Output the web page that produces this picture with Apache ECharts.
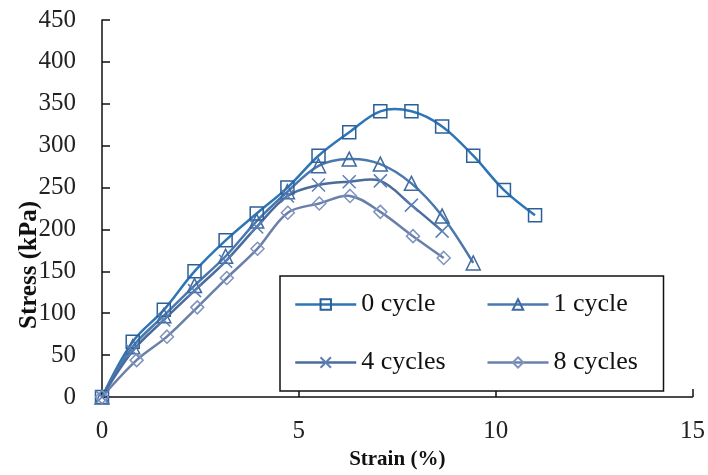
<!DOCTYPE html>
<html>
<head>
<meta charset="utf-8">
<script src="https://cdn.jsdelivr.net/npm/echarts@6/dist/echarts.min.js"></script>
<style>
  html, body { margin: 0; padding: 0; background: #fff; }
  #main { width: 708px; height: 475px; }
</style>
</head>
<body>
<div id="main"></div>
<script>
// strain (%) and stress (kPa)
var strain0 = [0, 0.78, 1.57, 2.35, 3.14, 3.93, 4.71, 5.5, 6.28, 7.07, 7.86, 8.64, 9.43, 10.21, 11.0];
var stress0 = [0, 66, 104, 150, 187, 219, 250, 288, 316, 341, 341, 323, 288, 247, 217];

var strain1 = [0, 0.78, 1.57, 2.35, 3.14, 3.93, 4.71, 5.5, 6.28, 7.07, 7.86, 8.64, 9.43];
var stress1 = [0, 60, 97, 133, 168, 210, 245, 276, 284, 278, 255, 216, 160];

var strain4 = [0, 0.78, 1.57, 2.35, 3.14, 3.93, 4.71, 5.5, 6.28, 7.07, 7.86, 8.64];
var stress4 = [0, 55, 92, 127, 162, 203, 240, 253, 257, 258, 229, 198];

var strain8 = [0, 0.88, 1.65, 2.42, 3.17, 3.95, 4.72, 5.52, 6.3, 7.07, 7.9, 8.68];
var stress8 = [0, 44, 72, 107, 142, 177, 220, 231, 240, 221, 192, 166];

var names = ["0 cycle", "1 cycle", "4 cycles", "8 cycles"];
var xTicks = [0, 5, 10, 15];
var yTicks = [0, 450, 50]; // min, max, step

function pairs(xs, ys) {
  var out = [];
  for (var i = 0; i < xs.length; i++) out.push([xs[i], ys[i]]);
  return out;
}

var font = "Liberation Serif";
var crossPath = "path://M0,0L10,10M10,0L0,10";

// smooth curve (excel style, no clamping at peaks) drawn with the axis scales
function curveSeries(name, xs, ys, color) {
  return {
    name: name + " curve",
    type: "custom",
    data: pairs(xs, ys),
    encode: { x: 0, y: 1 },
    silent: true,
    z: 1,
    renderItem: function (params, api) {
      if (params.dataIndex !== 0) return null;
      var pts = [];
      for (var i = 0; i < xs.length; i++) pts.push(api.coord([xs[i], ys[i]]));
      return {
        type: "polyline",
        shape: { points: pts, smooth: 0.35 },
        style: { stroke: color, lineWidth: 2.5, fill: null }
      };
    }
  };
}

// markers only, the line itself comes from curveSeries
function markSeries(name, xs, ys, symbol, size, lineColor, markColor) {
  return {
    name: name,
    type: "line",
    data: pairs(xs, ys),
    z: 3,
    symbol: symbol,
    symbolSize: size,
    showAllSymbol: true,
    lineStyle: { color: lineColor, width: 2.5, opacity: 0 },
    itemStyle: { color: "rgba(255,255,255,0)", borderColor: markColor, borderWidth: 1.5 },
    emphasis: { disabled: true }
  };
}

var colors = ["#2e75b6", "#4a78ad", "#4a6b9c", "#6a80ab"];
var markColors = ["#2a6099", "#3f6aa0", "#5b7fb5", "#7f93bd"];

var myChart = echarts.init(document.getElementById("main"));
myChart.setOption({
  animation: false,
  grid: { left: 102, right: 15, top: 20, bottom: 72 },
  xAxis: {
    type: "value",
    min: xTicks[0],
    max: xTicks[xTicks.length - 1],
    interval: xTicks[1] - xTicks[0],
    name: "Strain (%)",
    nameLocation: "middle",
    nameGap: 52,
    nameTextStyle: { fontFamily: font, fontWeight: "bold", fontSize: 21, color: "#111" },
    axisLine: { show: true, lineStyle: { color: "#111", width: 1.5 } },
    axisTick: { show: true, inside: true, length: 8, lineStyle: { color: "#111", width: 1.5 } },
    axisLabel: { fontFamily: font, fontSize: 25, color: "#222", margin: 22 },
    splitLine: { show: false }
  },
  yAxis: {
    type: "value",
    min: yTicks[0],
    max: yTicks[1],
    interval: yTicks[2],
    axisLine: { show: true, lineStyle: { color: "#111", width: 1.5 } },
    axisTick: { show: true, inside: true, length: 8, lineStyle: { color: "#111", width: 1.5 } },
    axisLabel: { fontFamily: font, fontSize: 25, color: "#222", margin: 26 },
    splitLine: { show: false }
  },
  graphic: [
    {
      type: "text",
      x: 30,
      y: 265,
      rotation: Math.PI / 2,
      style: {
        text: "Stress (kPa)",
        font: "bold 25px " + font,
        fill: "#111",
        textAlign: "center",
        textVerticalAlign: "middle"
      }
    }
  ],
  legend: {
    left: 280,
    top: 276,
    width: 370,
    orient: "horizontal",
    padding: [7, 0, 7, 14],
    itemWidth: 61,
    itemHeight: 13,
    itemGap: 15,
    backgroundColor: "#fff",
    borderColor: "#111",
    borderWidth: 1.5,
    borderRadius: 0,
    data: names,
    lineStyle: { width: 2.5, opacity: 1 },
    textStyle: { fontFamily: font, fontSize: 26, color: "#111", width: 110, lineHeight: 43 }
  },
  series: [
    curveSeries(names[0], strain0, stress0, colors[0]),
    curveSeries(names[1], strain1, stress1, colors[1]),
    curveSeries(names[2], strain4, stress4, colors[2]),
    curveSeries(names[3], strain8, stress8, colors[3]),
    markSeries(names[0], strain0, stress0, "rect", 13, colors[0], markColors[0]),
    markSeries(names[1], strain1, stress1, "triangle", 14, colors[1], markColors[1]),
    markSeries(names[2], strain4, stress4, crossPath, 13, colors[2], markColors[2]),
    markSeries(names[3], strain8, stress8, "diamond", 13, colors[3], markColors[3])
  ]
});
</script>
</body>
</html>
